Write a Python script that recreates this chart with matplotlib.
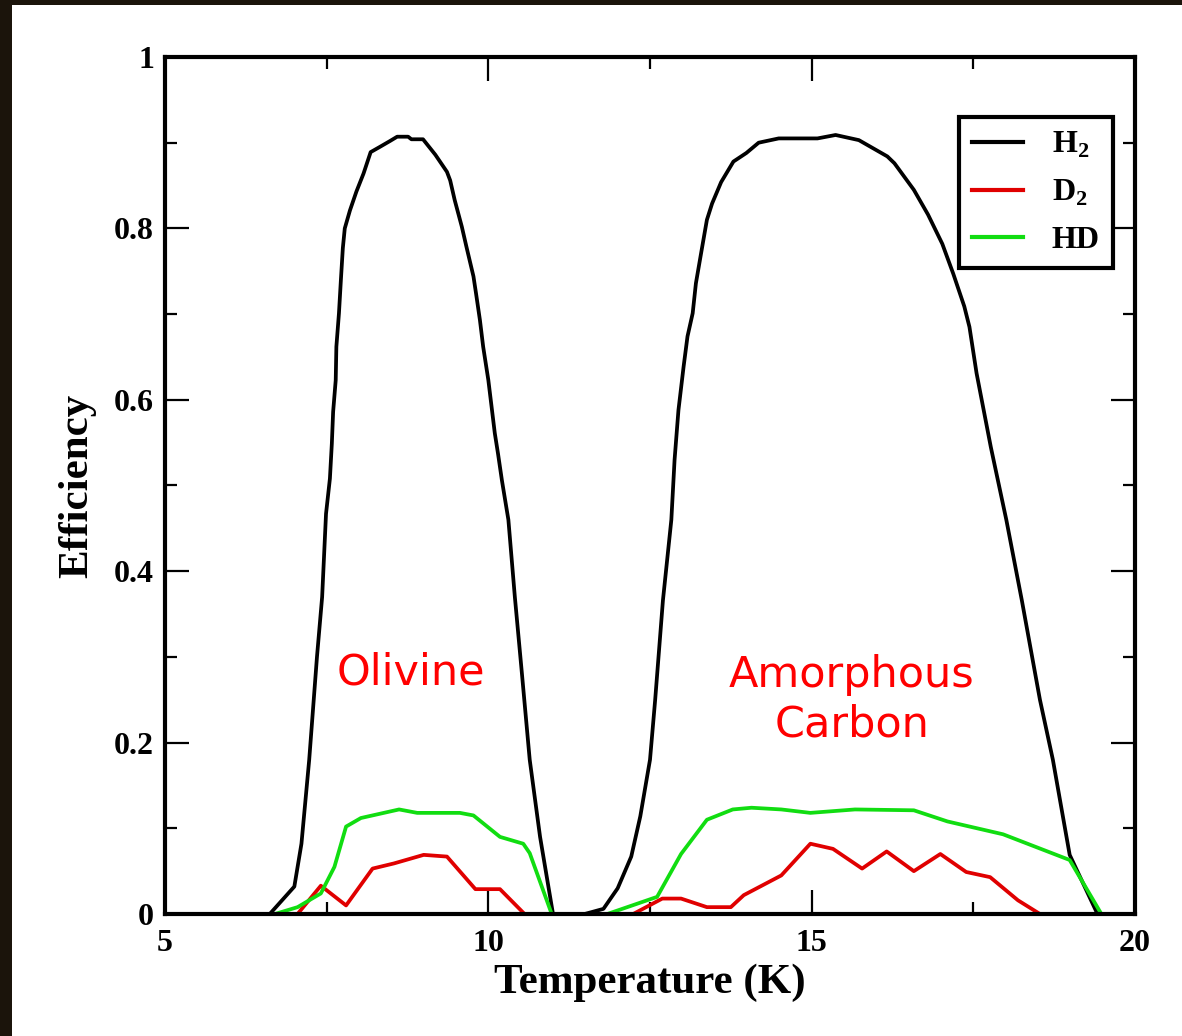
import matplotlib
matplotlib.use("Agg")
import matplotlib.pyplot as plt
from matplotlib.patches import Rectangle
from matplotlib.ticker import MultipleLocator

# H2 / D2 / HD recombination efficiency vs. grain temperature
# olivine surface
t_oli_h2 = [6.62, 7.0, 7.11, 7.23, 7.35, 7.43, 7.49, 7.55, 7.58, 7.60, 7.64, 7.65,
            7.69, 7.72, 7.75, 7.78, 7.86, 7.96, 8.07, 8.18, 8.32, 8.48, 8.59, 8.76,
            8.81, 8.99, 9.18, 9.36, 9.41, 9.48, 9.59, 9.66, 9.77, 9.81, 9.87, 9.92,
            10.0, 10.05, 10.1, 10.15, 10.21, 10.26, 10.31, 10.41, 10.52, 10.64,
            10.8, 11.0]
eff_oli_h2 = [0.0, 0.032, 0.082, 0.18, 0.30, 0.37, 0.467, 0.508, 0.549, 0.586,
              0.623, 0.662, 0.701, 0.740, 0.777, 0.800, 0.821, 0.843, 0.864, 0.889,
              0.895, 0.902, 0.907, 0.907, 0.904, 0.904, 0.886, 0.866, 0.856, 0.833,
              0.802, 0.779, 0.744, 0.724, 0.693, 0.662, 0.623, 0.592, 0.561, 0.537,
              0.506, 0.483, 0.460, 0.37, 0.28, 0.18, 0.09, 0.0]

t_oli_d2 = [7.05, 7.41, 7.8, 8.21, 8.54, 9.0, 9.36, 9.8, 10.18, 10.56]
eff_oli_d2 = [0.0, 0.033, 0.01, 0.053, 0.059, 0.069, 0.067, 0.029, 0.029, 0.0]

t_oli_hd = [6.70, 7.05, 7.41, 7.62, 7.8, 8.03, 8.62, 8.9, 9.56, 9.77, 10.18, 10.54,
            10.64, 10.98]
eff_oli_hd = [0.0, 0.008, 0.024, 0.055, 0.102, 0.112, 0.122, 0.118, 0.118, 0.115,
              0.09, 0.082, 0.071, 0.0]

# amorphous carbon surface
t_amc_h2 = [11.49, 11.78, 12.0, 12.21, 12.35, 12.5, 12.58, 12.7, 12.83, 12.88,
            12.94, 13.02, 13.08, 13.16, 13.21, 13.29, 13.38, 13.46, 13.60, 13.79,
            13.99, 14.18, 14.49, 15.09, 15.37, 15.73, 16.17, 16.28, 16.58, 16.80,
            17.02, 17.19, 17.36, 17.44, 17.55, 17.66, 17.77, 17.88, 18.01, 18.25,
            18.53, 18.73, 18.99, 19.42]
eff_amc_h2 = [0.0, 0.006, 0.03, 0.067, 0.114, 0.18, 0.25, 0.366, 0.460, 0.530,
              0.588, 0.639, 0.674, 0.701, 0.736, 0.771, 0.810, 0.829, 0.854, 0.878,
              0.888, 0.900, 0.905, 0.905, 0.909, 0.903, 0.884, 0.876, 0.845, 0.816,
              0.782, 0.747, 0.709, 0.685, 0.631, 0.588, 0.545, 0.506, 0.460, 0.366,
              0.25, 0.18, 0.069, 0.0]

t_amc_d2 = [12.24, 12.69, 12.98, 13.38, 13.75, 13.95, 14.53, 14.98, 15.33, 15.78,
            16.16, 16.58, 16.99, 17.39, 17.76, 18.19, 18.53]
eff_amc_d2 = [0.0, 0.018, 0.018, 0.008, 0.008, 0.022, 0.045, 0.082, 0.076, 0.053,
              0.073, 0.05, 0.07, 0.049, 0.043, 0.016, 0.0]

t_amc_hd = [11.84, 12.61, 12.98, 13.38, 13.78, 14.07, 14.53, 14.98, 15.67, 16.58,
            17.1, 17.96, 18.99, 19.48]
eff_amc_hd = [0.0, 0.02, 0.07, 0.11, 0.122, 0.124, 0.122, 0.118, 0.122, 0.121,
              0.108, 0.093, 0.063, 0.0]

H2_COLOR = "black"
D2_COLOR = "#e00000"
HD_COLOR = "#11dd11"

plt.rcParams["mathtext.fontset"] = "custom"
plt.rcParams["mathtext.rm"] = "Liberation Serif:bold"
plt.rcParams["mathtext.bf"] = "Liberation Serif:bold"

fig = plt.figure(figsize=(11.82, 10.36), dpi=100)
fig.patch.set_facecolor("#1b140b")
# white page on top of the dark backdrop
page = Rectangle((12 / 1182, 0), 1, 1 - 5 / 1036, transform=fig.transFigure,
                 facecolor="white", edgecolor="none", zorder=-10)
fig.patches.append(page)

ax = fig.add_axes([165 / 1182, 1 - 914 / 1036, 970 / 1182, 857 / 1036])
ax.set_zorder(1)

lw = 2.7
ax.plot(t_oli_h2, eff_oli_h2, color=H2_COLOR, lw=lw, label="H$_2$")
ax.plot(t_oli_d2, eff_oli_d2, color=D2_COLOR, lw=lw, label="D$_2$")
ax.plot(t_oli_hd, eff_oli_hd, color=HD_COLOR, lw=lw, label="HD")
ax.plot(t_amc_h2, eff_amc_h2, color=H2_COLOR, lw=lw)
ax.plot(t_amc_d2, eff_amc_d2, color=D2_COLOR, lw=lw)
ax.plot(t_amc_hd, eff_amc_hd, color=HD_COLOR, lw=lw)

ax.set_xlim(5, 20)
ax.set_ylim(0, 1)
ax.xaxis.set_minor_locator(MultipleLocator(2.5))
ax.yaxis.set_minor_locator(MultipleLocator(0.1))
ax.set_xticks([5, 10, 15, 20])
ax.set_xticklabels(["5", "10", "15", "20"])
ax.set_yticks([0, 0.2, 0.4, 0.6, 0.8, 1.0])
ax.set_yticklabels(["0", "0.2", "0.4", "0.6", "0.8", "1"])

for s in ax.spines.values():
    s.set_linewidth(3)
ax.tick_params(which="both", direction="in", top=True, right=True, width=1.6)
ax.tick_params(which="major", length=17)
ax.tick_params(which="minor", length=8.5)
ax.tick_params(axis="x", pad=11)
ax.tick_params(axis="y", pad=8)
for lab in ax.get_xticklabels() + ax.get_yticklabels():
    lab.set_fontfamily("Liberation Serif")
    lab.set_fontweight("bold")
    lab.set_fontsize(23)

ax.set_xlabel("Temperature (K)", fontfamily="Liberation Serif", fontweight="bold",
              fontsize=31, labelpad=4)
ax.set_ylabel("Efficiency", fontfamily="Liberation Serif", fontweight="bold",
              fontsize=31, labelpad=13)

ax.text(8.8, 0.282, "Olivine", color="red", fontsize=31, ha="center", va="center")
ax.text(15.62, 0.25, "Amorphous\nCarbon", color="red", fontsize=31, ha="center",
        va="center", linespacing=1.2)

leg = ax.legend(loc="upper right", bbox_to_anchor=(0.977, 0.930), borderaxespad=0,
                fancybox=False, framealpha=1, edgecolor="black", handlelength=1.6,
                handletextpad=0.9, labelspacing=0.55, borderpad=0.4,
                prop={"family": "Liberation Serif", "weight": "bold", "size": 23})
leg.get_frame().set_linewidth(3)
for line in leg.get_lines():
    line.set_linewidth(3)

fig.savefig("out.png", dpi=100, facecolor=fig.get_facecolor())
